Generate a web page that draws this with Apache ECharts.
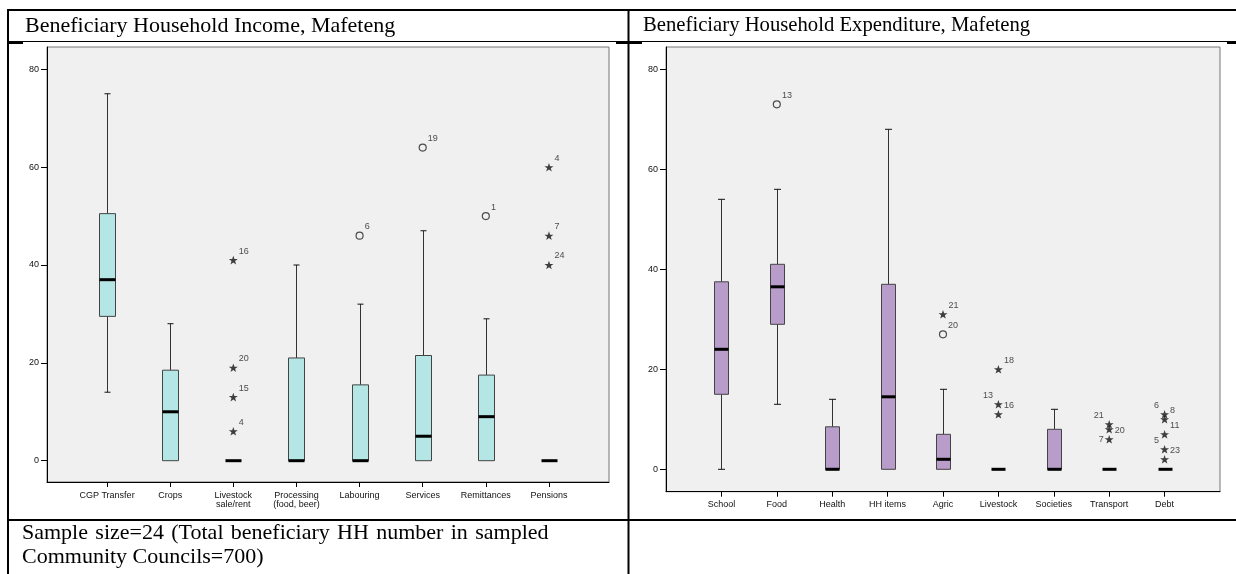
<!DOCTYPE html>
<html>
<head>
<meta charset="utf-8">
<script src="https://cdn.jsdelivr.net/npm/echarts@6/dist/echarts.min.js"></script>
<style>
html,body{margin:0;padding:0;background:#fff;}
#chart{width:1236px;height:574px;}
</style>
</head>
<body>
<div id="chart"></div>
<script>
// ---------- data ----------
const incomeTitle = 'Beneficiary Household Income, Mafeteng';
const expTitle = 'Beneficiary Household Expenditure, Mafeteng';
const noteLines = ['Sample size=24 (Total beneficiary HH number in sampled', 'Community Councils=700)'];

const incomeCategories = ['CGP Transfer', 'Crops', 'Livestock\nsale/rent', 'Processing\n(food, beer)', 'Labouring', 'Services', 'Remittances', 'Pensions'];
// [min, Q1, median, Q3, max]
const incomeStats = [
  [14, 29.5, 37, 50.5, 75],
  [0, 0, 10, 18.5, 28],
  [0, 0, 0, 0, 0],
  [0, 0, 0, 21, 40],
  [0, 0, 0, 15.5, 32],
  [0, 0, 5, 21.5, 47],
  [0, 0, 9, 17.5, 29],
  [0, 0, 0, 0, 0]
];
// [category index, value, case id, kind]
const incomeOutliers = [
  [2, 41, '16', 'star'], [2, 19, '20', 'star'], [2, 13, '15', 'star'], [2, 6, '4', 'star'],
  [4, 46, '6', 'circle'], [5, 64, '19', 'circle'], [6, 50, '1', 'circle'],
  [7, 60, '4', 'star'], [7, 46, '7', 'star'], [7, 40, '24', 'star']
];

const expCategories = ['School', 'Food', 'Health', 'HH items', 'Agric', 'Livestock', 'Societies', 'Transport', 'Debt'];
const expStats = [
  [0, 15, 24, 37.5, 54],
  [13, 29, 36.5, 41, 56],
  [0, 0, 0, 8.5, 14],
  [0, 0, 14.5, 37, 68],
  [0, 0, 2, 7, 16],
  [0, 0, 0, 0, 0],
  [0, 0, 0, 8, 12],
  [0, 0, 0, 0, 0],
  [0, 0, 0, 0, 0]
];
const expOutliers = [
  [1, 73, '13', 'circle'],
  [4, 31, '21', 'star'], [4, 27, '20', 'circle'],
  [5, 20, '18', 'star'], [5, 13, '13', 'star'], [5, 11, '16', 'star'],
  [7, 9, '21', 'star'], [7, 8, '20', 'star'], [7, 6, '7', 'star'],
  [8, 11, '6', 'star'], [8, 10, '8', 'star'], [8, 7, '11', 'star'], [8, 4, '5', 'star'], [8, 2, '23', 'star']
];
const yTicks = [0, 20, 40, 60, 80];

// label placement for outlier ids (default: upper right)
const labelSide = {
  'e:5:13': 'UL', 'e:7:21': 'UL', 'e:7:20': 'R', 'e:7:7': 'L',
  'e:8:6': 'UL', 'e:8:5': 'UL'
};

// ---------- styles ----------
const SANS = 'Liberation Sans, Arial, sans-serif';
const SERIF = 'Liberation Serif, Times New Roman, serif';
const STAR = 'path://M0,-10L2.35,-3.09L9.51,-3.09L3.8,1.18L5.88,8.09L0,4L-5.88,8.09L-3.8,1.18L-9.51,-3.09L-2.35,-3.09Z';

function boxRenderer(boxW, capW, fill) {
  return function (params, api) {
    const x = api.value(0);
    const v = [1, 2, 3, 4, 5].map(i => api.value(i));
    const c = v.map(val => api.coord([x, val]));
    const cx = Math.round(c[0][0]) + 0.5;
    const ch = [];
    const ws = { stroke: '#333', lineWidth: 1 };
    if (v[4] > v[3]) {
      ch.push({ type: 'line', shape: { x1: cx, y1: c[3][1], x2: cx, y2: c[4][1] }, style: ws });
      ch.push({ type: 'line', shape: { x1: cx - capW / 2, y1: c[4][1], x2: cx + capW / 2, y2: c[4][1] }, style: { stroke: '#111', lineWidth: 1 } });
    }
    if (v[0] < v[1]) {
      ch.push({ type: 'line', shape: { x1: cx, y1: c[1][1], x2: cx, y2: c[0][1] }, style: ws });
      ch.push({ type: 'line', shape: { x1: cx - capW / 2, y1: c[0][1], x2: cx + capW / 2, y2: c[0][1] }, style: { stroke: '#111', lineWidth: 1 } });
    }
    if (v[3] > v[1]) {
      ch.push({ type: 'rect', shape: { x: cx - boxW / 2, y: c[3][1], width: boxW, height: c[1][1] - c[3][1] },
        style: { fill: fill, stroke: '#444', lineWidth: 1 } });
    }
    ch.push({ type: 'line', shape: { x1: cx - boxW / 2, y1: c[2][1], x2: cx + boxW / 2, y2: c[2][1] },
      style: { stroke: '#000', lineWidth: 3 } });
    return { type: 'group', children: ch };
  };
}

function outlierData(list, prefix) {
  return list.map(o => {
    const side = labelSide[prefix + ':' + o[0] + ':' + o[2]] || 'UR';
    let lab;
    if (side === 'UR') lab = { position: 'right', distance: 1, offset: [0, -9] };
    else if (side === 'UL') lab = { position: 'left', distance: 1, offset: [0, -9] };
    else if (side === 'R') lab = { position: 'right', distance: 1, offset: [0, 1] };
    else lab = { position: 'left', distance: 1, offset: [0, 0] };
    return {
      name: o[2], value: [o[0], o[1]],
      symbol: o[3] === 'star' ? STAR : 'circle',
      symbolSize: o[3] === 'star' ? 9 : 7,
      itemStyle: o[3] === 'star' ? { color: '#111', borderWidth: 0 } : { color: 'transparent', borderColor: '#222', borderWidth: 1.2 },
      label: lab
    };
  });
}

function xAxisFor(cats, gridIndex, min, max, margin) {
  const vals = cats.map((c, i) => i);
  return {
    type: 'value', gridIndex: gridIndex, min: min, max: max,
    axisLine: { show: true, onZero: false, lineStyle: { color: '#000', width: 1 } },
    axisTick: { show: true, customValues: vals, length: 5, lineStyle: { color: '#000' } },
    axisLabel: { customValues: vals, formatter: v => cats[Math.round(v)], color: '#111', fontSize: 9, fontFamily: SANS, margin: margin, lineHeight: 9 },
    splitLine: { show: false }
  };
}
function yAxisFor(gridIndex, min, max) {
  return {
    type: 'value', gridIndex: gridIndex, min: min, max: max,
    axisLine: { show: true, onZero: false, lineStyle: { color: '#000', width: 1 } },
    axisTick: { show: true, customValues: yTicks, length: 6, lineStyle: { color: '#000' } },
    axisLabel: { customValues: yTicks, color: '#111', fontSize: 9, fontFamily: SANS, margin: 8 },
    splitLine: { show: false }
  };
}

const chart = echarts.init(document.getElementById('chart'), null, { renderer: 'canvas' });

const lineStyleThick = { stroke: '#000', lineWidth: 2 };
const option = {
  backgroundColor: '#fff',
  animation: false,
  grid: [
    { left: 47, top: 47, width: 562, height: 435, show: true, backgroundColor: '#f0f0f0', borderColor: '#777', borderWidth: 1 },
    { left: 666, top: 47, width: 554, height: 444.7, show: true, backgroundColor: '#f0f0f0', borderColor: '#777', borderWidth: 1 }
  ],
  xAxis: [
    xAxisFor(incomeCategories, 0, -0.951, 7.951, 9),
    xAxisFor(expCategories, 1, -1, 9, 8)
  ],
  yAxis: [
    yAxisFor(0, -4.354, 84.56),
    yAxisFor(1, -4.48, 84.46)
  ],
  series: [
    { type: 'custom', xAxisIndex: 0, yAxisIndex: 0, renderItem: boxRenderer(16, 6, '#b5e6e6'),
      data: incomeStats.map((s, i) => [i].concat(s)), encode: { x: 0, y: [1, 2, 3, 4, 5] }, clip: false },
    { type: 'custom', xAxisIndex: 1, yAxisIndex: 1, renderItem: boxRenderer(14, 7, '#b89cc9'),
      data: expStats.map((s, i) => [i].concat(s)), encode: { x: 0, y: [1, 2, 3, 4, 5] }, clip: false },
    { type: 'scatter', xAxisIndex: 0, yAxisIndex: 0, symbolKeepAspect: true,
      data: outlierData(incomeOutliers, 'i'),
      label: { show: true, formatter: '{b}', fontSize: 9, fontFamily: SANS, color: '#222' } },
    { type: 'scatter', xAxisIndex: 1, yAxisIndex: 1, symbolKeepAspect: true,
      data: outlierData(expOutliers, 'e'),
      label: { show: true, formatter: '{b}', fontSize: 9, fontFamily: SANS, color: '#222' } }
  ],
  graphic: [
    { type: 'line', shape: { x1: 7, y1: 10, x2: 1236, y2: 10 }, style: lineStyleThick, z: 100 },
    { type: 'line', shape: { x1: 8, y1: 9, x2: 8, y2: 574 }, style: lineStyleThick, z: 100 },
    { type: 'line', shape: { x1: 628.5, y1: 9, x2: 628.5, y2: 574 }, style: lineStyleThick, z: 100 },
    { type: 'line', shape: { x1: 8, y1: 41.5, x2: 1236, y2: 41.5 }, style: { stroke: '#000', lineWidth: 1.2 }, z: 100 },
    { type: 'line', shape: { x1: 8, y1: 43, x2: 23, y2: 43 }, style: lineStyleThick, z: 100 },
    { type: 'line', shape: { x1: 616, y1: 43, x2: 642, y2: 43 }, style: lineStyleThick, z: 100 },
    { type: 'line', shape: { x1: 1227, y1: 43, x2: 1236, y2: 43 }, style: lineStyleThick, z: 100 },
    { type: 'line', shape: { x1: 8, y1: 520, x2: 1236, y2: 520 }, style: lineStyleThick, z: 100 },
    { type: 'text', x: 25, y: 26, style: { text: incomeTitle, font: '22px ' + SERIF, fill: '#000', textVerticalAlign: 'middle' }, z: 100 },
    { type: 'text', x: 643, y: 26, style: { text: expTitle, font: '20.7px ' + SERIF, fill: '#000', textVerticalAlign: 'middle' }, z: 100 },
    { type: 'text', x: 22, y: 533, style: { text: noteLines[0].split(' ').join(' \u200A'), font: '22px ' + SERIF, fill: '#000', textVerticalAlign: 'middle' }, z: 100 },
    { type: 'text', x: 22, y: 557, style: { text: noteLines[1], font: '22px ' + SERIF, fill: '#000', textVerticalAlign: 'middle' }, z: 100 }
  ]
};
chart.setOption(option);
</script>
</body>
</html>
